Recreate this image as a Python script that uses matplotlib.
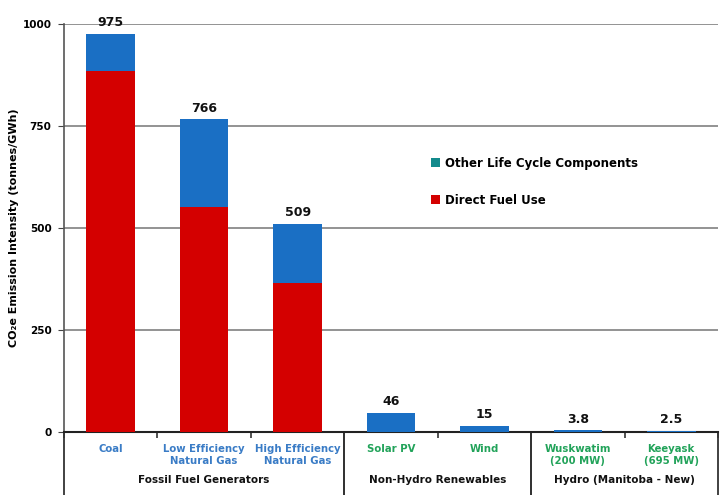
import matplotlib
matplotlib.use("Agg")
import matplotlib.pyplot as plt
from matplotlib.patches import Patch
import numpy as np

categories = ["Coal", "Low Efficiency\nNatural Gas", "High Efficiency\nNatural Gas",
              "Solar PV", "Wind", "Wuskwatim\n(200 MW)", "Keeyask\n(695 MW)"]
totals = [975, 766, 509, 46, 15, 3.8, 2.5]
total_labels = ["975", "766", "509", "46", "15", "3.8", "2.5"]
direct_fuel = [885, 551, 365, 0, 0, 0, 0]
other_lc = [t - d for t, d in zip(totals, direct_fuel)]
groups = ["Fossil Fuel Generators", "Non-Hydro Renewables", "Hydro (Manitoba - New)"]
group_spans = [(0, 2), (3, 4), (5, 6)]
label_colors = ["#3a7cc6"] * 3 + ["#22a35a"] * 4

plt.rcParams['font.family'] = ['DejaVu Sans']

fig = plt.figure(figsize=(7.2, 4.95), dpi=100)
ax = fig.add_axes([64/720, 63/495, 654/720, 408/495])

x = np.arange(len(categories))
red = "#d40000"
blue = "#1a6fc4"
ax.bar(x, direct_fuel, width=0.52, color=red, zorder=3)
ax.bar(x, other_lc, bottom=direct_fuel, width=0.52, color=blue, zorder=3)

for xi, t, lab in zip(x, totals, total_labels):
    ax.text(xi, t + 12, lab, ha="center", va="bottom", fontsize=9,
            fontweight="bold", color="#111111")

ax.set_xlim(-0.5, len(categories) - 0.5)
ax.set_ylim(0, 1000)
ax.set_yticks([0, 250, 500, 750, 1000])
ax.set_yticklabels(["0", "250", "500", "750", "1000"], fontweight="bold", fontsize=7.5)
ax.yaxis.grid(True, color="#8a8a8a", linewidth=1.3, zorder=0)
ax.tick_params(axis="y", length=4, color="#444444", pad=5)

ax.set_xticks([])
ax.set_xticks(np.arange(-0.5, len(categories), 1.0), minor=True)
ax.tick_params(axis="x", which="minor", length=4, width=1.2, color="#333333")
ax.set_xticklabels([], minor=True)

for s in ["top", "right"]:
    ax.spines[s].set_visible(False)
ax.spines["left"].set_color("#555555")
ax.spines["left"].set_linewidth(1.2)
ax.spines["bottom"].set_color("#222222")
ax.spines["bottom"].set_linewidth(1.5)

ax.set_ylabel("CO\u2082e Emission Intensity (tonnes/GWh)", fontsize=8,
              fontweight="bold")
ax.yaxis.set_label_coords(-0.069, 0.5)

trans = ax.get_xaxis_transform()
for xi, cat, c in zip(x, categories, label_colors):
    ax.text(xi, -0.03, cat, transform=trans, ha="center", va="top",
            fontsize=7.3, fontweight="bold", color=c, linespacing=1.25)

for name, (a, b) in zip(groups, group_spans):
    ax.text((a + b) / 2, -0.105, name, transform=trans, ha="center", va="top",
            fontsize=7.5, fontweight="bold", color="#111111")
    for edge in (a - 0.5, b + 0.5):
        ax.plot([edge, edge], [0, -0.2], transform=trans, color="#333333",
                linewidth=1.3, clip_on=False)

handles = [Patch(facecolor="#138a8c", label="Other Life Cycle Components"),
           Patch(facecolor=red, label="Direct Fuel Use")]
leg = ax.legend(handles=handles, loc="upper left", bbox_to_anchor=(0.545, 0.7),
                frameon=False, handlelength=0.8, handleheight=0.8,
                handletextpad=0.4, labelspacing=2.0, prop={"weight": "bold", "size": 8.5})

fig.savefig("out.png", dpi=100)
